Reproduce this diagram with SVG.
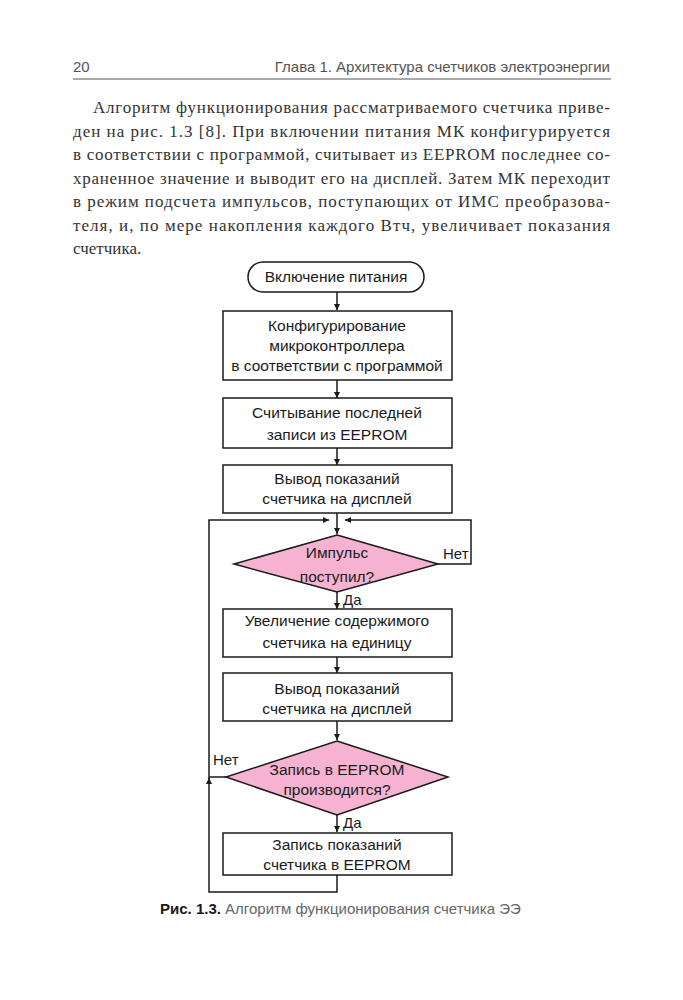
<svg xmlns="http://www.w3.org/2000/svg" width="683" height="1000" viewBox="0 0 683 1000">
<defs>
<marker id="ah" viewBox="0 0 10 10" refX="10" refY="5" markerWidth="6" markerHeight="6" markerUnits="userSpaceOnUse" orient="auto">
<path d="M0,0 L10,5 L0,10 z" fill="#1a1a1a"/>
</marker>
<style>
.hdr{font-family:"Liberation Sans",Arial,sans-serif;font-size:15px;fill:#555}
.body{font-family:"Liberation Serif","Times New Roman",serif;font-size:17px;fill:#333}
.nt{font-family:"Liberation Sans",Arial,sans-serif;font-size:15.5px;fill:#1a1a1a;text-anchor:middle}
.lbl{font-family:"Liberation Sans",Arial,sans-serif;font-size:15px;fill:#1a1a1a}
.box{fill:#fff;stroke:#1a1a1a;stroke-width:1.5}
.dia{fill:#f5b3d1;stroke:#1a1a1a;stroke-width:1.5}
.ln{fill:none;stroke:#1a1a1a;stroke-width:1.5}
.cap{font-family:"Liberation Sans",Arial,sans-serif;font-size:15px}
</style>
</defs>
<rect width="683" height="1000" fill="#fff"/>
<g id="header">
<text class="hdr" x="73" y="72">20</text>
<text class="hdr" x="610" y="72" text-anchor="end">Глава 1. Архитектура счетчиков электроэнергии</text>
<line x1="73" y1="79" x2="611" y2="79" stroke="#555" stroke-width="1"/>
</g>
<g id="paragraph">
<text class="body" x="93" y="113" textLength="517" lengthAdjust="spacing">Алгоритм функционирования рассматриваемого счетчика приве-</text>
<text class="body" x="73" y="137" textLength="537" lengthAdjust="spacing">ден на рис. 1.3 [8]. При включении питания МК конфигурируется</text>
<text class="body" x="73" y="160" textLength="537" lengthAdjust="spacing">в соответствии с программой, считывает из EEPROM последнее со-</text>
<text class="body" x="73" y="184" textLength="537" lengthAdjust="spacing">храненное значение и выводит его на дисплей. Затем МК переходит</text>
<text class="body" x="73" y="207" textLength="537" lengthAdjust="spacing">в режим подсчета импульсов, поступающих от ИМС преобразова-</text>
<text class="body" x="73" y="231" textLength="537" lengthAdjust="spacing">теля, и, по мере накопления каждого Втч, увеличивает показания</text>
<text class="body" x="73" y="254">счетчика.</text>
</g>
<g id="connectors">
<line class="ln" x1="337" y1="292" x2="337" y2="310" marker-end="url(#ah)"/>
<line class="ln" x1="337" y1="380" x2="337" y2="398" marker-end="url(#ah)"/>
<line class="ln" x1="337" y1="448" x2="337" y2="465" marker-end="url(#ah)"/>
<line class="ln" x1="337" y1="513" x2="337" y2="534" marker-end="url(#ah)"/>
<polyline class="ln" points="438,564 471,564 471,520 345,520" marker-end="url(#ah)"/>
<line class="ln" x1="337" y1="592" x2="337" y2="609" marker-end="url(#ah)"/>
<line class="ln" x1="337" y1="657" x2="337" y2="673" marker-end="url(#ah)"/>
<line class="ln" x1="337" y1="721" x2="337" y2="740" marker-end="url(#ah)"/>
<line class="ln" x1="337" y1="815" x2="337" y2="832" marker-end="url(#ah)"/>
<polyline class="ln" points="337,875 337,892 209,892 209,778" marker-end="url(#ah)"/>
<polyline class="ln" points="209,779 209,520 329,520" marker-end="url(#ah)"/>
<line class="ln" x1="226" y1="777" x2="209" y2="777"/>
<text class="lbl" x="443" y="559">Нет</text>
<text class="lbl" x="343" y="605">Да</text>
<text class="lbl" x="213" y="765">Нет</text>
<text class="lbl" x="343" y="828">Да</text>
</g>
<g id="start">
<rect class="box" x="248" y="262" width="176" height="30" rx="15"/>
<text class="nt" x="336" y="282">Включение питания</text>
</g>
<g id="config">
<rect class="box" x="223" y="311" width="229" height="69"/>
<text class="nt" x="337" y="331">Конфигурирование</text>
<text class="nt" x="337" y="351">микроконтроллера</text>
<text class="nt" x="337" y="371">в соответствии с программой</text>
</g>
<g id="read">
<rect class="box" x="223" y="398" width="229" height="50"/>
<text class="nt" x="337" y="418">Считывание последней</text>
<text class="nt" x="337" y="440">записи из EEPROM</text>
</g>
<g id="display1">
<rect class="box" x="223" y="465" width="229" height="48"/>
<text class="nt" x="337" y="484">Вывод показаний</text>
<text class="nt" x="337" y="504">счетчика на дисплей</text>
</g>
<g id="pulse">
<polygon class="dia" points="337,535 438,564 337,592 234,564"/>
<text class="nt" x="337" y="558">Импульс</text>
<text class="nt" x="337" y="582">поступил?</text>
</g>
<g id="increment">
<rect class="box" x="223" y="609" width="229" height="48"/>
<text class="nt" x="337" y="626">Увеличение содержимого</text>
<text class="nt" x="337" y="648">счетчика на единицу</text>
</g>
<g id="display2">
<rect class="box" x="223" y="673" width="229" height="48"/>
<text class="nt" x="337" y="694">Вывод показаний</text>
<text class="nt" x="337" y="714">счетчика на дисплей</text>
</g>
<g id="write-check">
<polygon class="dia" points="337,741 448,777 337,815 226,777"/>
<text class="nt" x="337" y="775">Запись в EEPROM</text>
<text class="nt" x="337" y="795">производится?</text>
</g>
<g id="write">
<rect class="box" x="223" y="833" width="229" height="42"/>
<text class="nt" x="337" y="850">Запись показаний</text>
<text class="nt" x="337" y="870">счетчика в EEPROM</text>
</g>
<g id="caption">
<text class="cap" x="160" y="914"><tspan font-weight="bold" fill="#1a1a1a">Рис. 1.3.</tspan><tspan fill="#666"> Алгоритм функционирования счетчика ЭЭ</tspan></text>
</g>
</svg>
